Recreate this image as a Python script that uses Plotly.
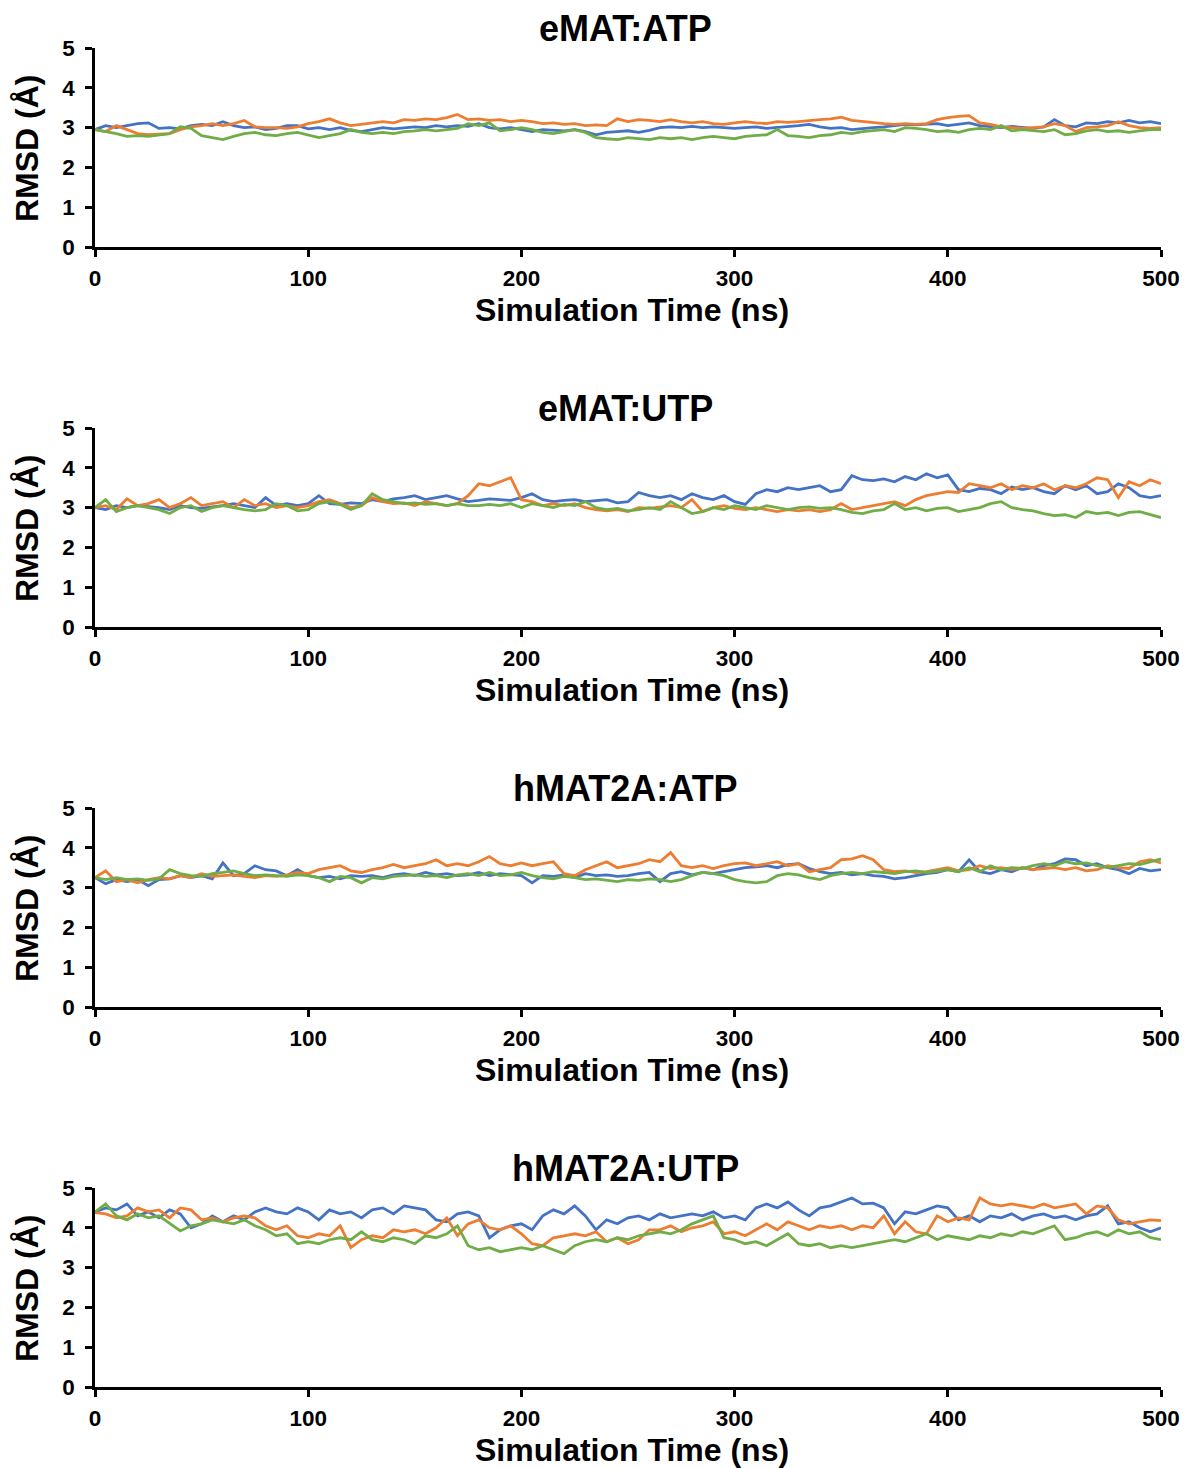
import plotly.graph_objects as go

# ---------------- data ----------------
TIME_NS = list(range(0, 501, 5))
PANEL_TITLES = ["eMAT:ATP", "eMAT:UTP", "hMAT2A:ATP", "hMAT2A:UTP"]
X_TICKS = [0, 100, 200, 300, 400, 500]
Y_TICKS = [0, 1, 2, 3, 4, 5]
X_LABEL = "Simulation Time (ns)"
Y_LABEL = "RMSD (Å)"

ematatp_blue = [2.95, 3.05, 3.0, 3.05, 3.1, 3.12, 2.98, 3.0, 2.97, 3.05,
                3.08, 3.05, 3.15, 3.05, 3.0, 3.02, 2.95, 2.98, 3.05, 3.05,
                2.97, 3.0, 2.95, 3.0, 2.93, 2.9, 2.95, 3.0, 2.97, 3.0,
                3.02, 3.0, 3.05, 3.02, 3.05, 3.03, 3.1, 3.0, 2.97, 3.0,
                2.95, 2.9, 2.95, 2.93, 2.92, 2.95, 2.9, 2.82, 2.88, 2.9,
                2.92, 2.88, 2.93, 3.0, 3.02, 3.0, 3.03, 3.0, 3.02, 3.0,
                2.98, 3.0, 3.02, 2.98, 3.0, 3.03, 3.05, 3.08, 3.02, 2.98,
                3.0, 2.95, 2.98, 3.0, 3.02, 3.05, 3.08, 3.07, 3.08, 3.1,
                3.05, 3.08, 3.12, 3.05, 3.03, 3.0, 3.03, 3.0, 2.98, 3.02,
                3.2, 3.05, 3.02, 3.12, 3.1, 3.15, 3.12, 3.18, 3.12, 3.15,
                3.1]
ematatp_orange = [2.95, 2.9, 3.05, 2.95, 2.85, 2.82, 2.83, 2.85, 2.95, 3.02,
                  3.05, 3.1, 3.05, 3.1, 3.18, 3.02, 3.0, 3.0, 2.98, 3.02,
                  3.1, 3.15, 3.22, 3.12, 3.05, 3.08, 3.12, 3.15, 3.12, 3.2,
                  3.18, 3.22, 3.2, 3.25, 3.33, 3.2, 3.22, 3.18, 3.2, 3.15,
                  3.18, 3.15, 3.1, 3.12, 3.08, 3.1, 3.05, 3.07, 3.05, 3.22,
                  3.15, 3.2, 3.18, 3.15, 3.2, 3.15, 3.12, 3.15, 3.1, 3.08,
                  3.12, 3.15, 3.12, 3.1, 3.15, 3.13, 3.15, 3.18, 3.2, 3.22,
                  3.26, 3.18, 3.15, 3.12, 3.1, 3.08, 3.1, 3.08, 3.1, 3.2,
                  3.25, 3.28, 3.3, 3.12, 3.08, 3.02, 3.0, 2.98, 3.0, 3.02,
                  3.1, 3.05, 2.9, 3.0, 3.02, 3.05, 3.15, 3.05, 3.0, 2.98,
                  3.0]
ematatp_green = [2.95, 2.9, 2.85, 2.78, 2.8, 2.78, 2.82, 2.85, 3.02, 2.98,
                 2.8, 2.75, 2.7, 2.78, 2.85, 2.88, 2.82, 2.8, 2.85, 2.88,
                 2.82, 2.75, 2.8, 2.85, 2.95, 2.88, 2.85, 2.88, 2.85, 2.9,
                 2.92, 2.95, 2.92, 2.95, 2.98, 3.1, 3.05, 3.12, 2.92, 2.95,
                 3.0, 2.95, 2.88, 2.85, 2.9, 2.95, 2.88, 2.75, 2.72, 2.7,
                 2.75, 2.72, 2.7, 2.75, 2.72, 2.75, 2.7, 2.75, 2.78, 2.75,
                 2.72, 2.78, 2.8, 2.82, 2.95, 2.8, 2.78, 2.75, 2.8, 2.82,
                 2.88, 2.85, 2.9, 2.93, 2.95, 2.9, 3.0, 2.98, 2.95, 2.9,
                 2.92, 2.88, 2.95, 2.98, 2.95, 3.05, 2.92, 2.95, 2.93, 2.9,
                 2.95, 2.82, 2.85, 2.92, 2.95, 2.9, 2.92, 2.88, 2.92, 2.95,
                 2.95]

ematutp_blue = [3.0, 2.95, 3.05, 3.0, 3.05, 3.02, 3.0, 2.95, 3.05, 3.0,
                2.98, 3.02, 3.05, 3.1, 3.05, 3.0, 3.25, 3.05, 3.1, 3.05,
                3.1, 3.3, 3.1, 3.08, 3.12, 3.1, 3.2, 3.15, 3.22, 3.25,
                3.3, 3.2, 3.25, 3.3, 3.22, 3.15, 3.18, 3.22, 3.2, 3.18,
                3.25, 3.35, 3.2, 3.15, 3.18, 3.2, 3.15, 3.18, 3.2, 3.12,
                3.15, 3.38, 3.3, 3.25, 3.3, 3.2, 3.35, 3.25, 3.2, 3.3,
                3.15, 3.08, 3.35, 3.45, 3.4, 3.5, 3.45, 3.5, 3.55, 3.4,
                3.45, 3.8, 3.7, 3.68, 3.72, 3.65, 3.78, 3.7, 3.85, 3.75,
                3.82, 3.45, 3.4, 3.48, 3.45, 3.35, 3.52, 3.45, 3.5, 3.4,
                3.35, 3.55, 3.45, 3.55, 3.35, 3.4, 3.6, 3.5, 3.3, 3.25,
                3.3]
ematutp_orange = [3.0, 3.05, 2.95, 3.22, 3.05, 3.1, 3.2, 3.0, 3.1, 3.25,
                  3.05, 3.1, 3.15, 3.0, 3.2, 3.05, 3.1, 3.0, 3.05, 3.0,
                  3.05, 3.15, 3.2, 3.1, 3.0, 3.05, 3.25, 3.15, 3.1, 3.12,
                  3.05, 3.15, 3.1, 3.05, 3.1, 3.3, 3.6, 3.55, 3.65, 3.75,
                  3.2, 3.15, 3.05, 3.1, 3.05, 3.1, 3.0, 2.95, 2.92, 2.95,
                  2.9, 3.0, 2.98, 3.02, 3.05, 3.0, 3.2, 2.9, 3.0, 3.05,
                  2.98, 2.95, 3.0, 2.95, 2.9, 2.95, 2.92, 2.95, 2.9, 2.95,
                  3.1, 2.95, 3.0, 3.05, 3.1, 3.15, 3.05, 3.2, 3.3, 3.35,
                  3.4, 3.38, 3.6, 3.55, 3.5, 3.6, 3.45, 3.55, 3.5, 3.6,
                  3.45, 3.55, 3.5, 3.6, 3.75, 3.7, 3.25, 3.65, 3.55, 3.7,
                  3.6]
ematutp_green = [3.0, 3.2, 2.9, 3.0, 3.05, 3.0, 2.95, 2.85, 3.0, 3.05,
                 2.9, 3.0, 3.05, 3.0, 2.95, 2.92, 2.95, 3.1, 3.05, 2.92,
                 2.95, 3.1, 3.15, 3.08, 2.95, 3.05, 3.35, 3.2, 3.15, 3.1,
                 3.12, 3.08, 3.1, 3.05, 3.1, 3.05, 3.05, 3.08, 3.05, 3.1,
                 3.0, 3.1, 3.05, 3.0, 3.08, 3.05, 3.15, 3.0, 2.95, 2.98,
                 2.92, 2.95, 3.0, 2.95, 3.15, 3.0, 2.85, 2.9, 3.0, 2.95,
                 3.05, 3.0, 2.95, 3.05, 3.0, 2.95, 3.0, 3.02, 2.98, 3.0,
                 2.95, 2.88, 2.85, 2.92, 2.95, 3.1, 2.95, 3.0, 2.92, 2.98,
                 3.0, 2.9, 2.95, 3.0, 3.1, 3.15, 3.0, 2.95, 2.92, 2.85,
                 2.8, 2.82, 2.75, 2.9, 2.85, 2.88, 2.8, 2.88, 2.9, 2.82,
                 2.75]

hatp_blue = [3.25, 3.1, 3.2, 3.15, 3.2, 3.05, 3.2, 3.22, 3.3, 3.25,
             3.3, 3.22, 3.62, 3.3, 3.35, 3.55, 3.45, 3.42, 3.3, 3.45,
             3.3, 3.25, 3.28, 3.22, 3.3, 3.28, 3.3, 3.25, 3.32, 3.35,
             3.3, 3.38, 3.32, 3.35, 3.3, 3.32, 3.38, 3.3, 3.35, 3.32,
             3.3, 3.12, 3.3, 3.28, 3.32, 3.25, 3.35, 3.3, 3.32, 3.28,
             3.3, 3.35, 3.38, 3.15, 3.35, 3.4, 3.32, 3.38, 3.35, 3.4,
             3.45, 3.5, 3.52, 3.55, 3.5, 3.58, 3.6, 3.48, 3.4, 3.35,
             3.38, 3.32, 3.35, 3.3, 3.28, 3.22, 3.25, 3.3, 3.35, 3.38,
             3.45, 3.4, 3.7, 3.4, 3.35, 3.45, 3.4, 3.5, 3.45, 3.55,
             3.6, 3.72, 3.7, 3.55, 3.6, 3.5, 3.45, 3.35, 3.48, 3.42,
             3.45]
hatp_orange = [3.25, 3.42, 3.15, 3.2, 3.12, 3.2, 3.25, 3.22, 3.3, 3.25,
               3.35, 3.28, 3.3, 3.32, 3.28, 3.25, 3.3, 3.28, 3.32, 3.38,
               3.35, 3.45, 3.5, 3.55, 3.42, 3.38, 3.45, 3.5, 3.58, 3.5,
               3.55, 3.6, 3.7, 3.55, 3.6, 3.55, 3.65, 3.78, 3.6, 3.55,
               3.62, 3.55, 3.6, 3.65, 3.35, 3.3, 3.45, 3.55, 3.65, 3.5,
               3.55, 3.6, 3.7, 3.65, 3.88, 3.55, 3.5, 3.55, 3.48, 3.55,
               3.6, 3.62, 3.55, 3.6, 3.65, 3.55, 3.6, 3.4, 3.45, 3.5,
               3.7, 3.72, 3.8, 3.7, 3.45, 3.4, 3.42, 3.38, 3.4, 3.45,
               3.5, 3.42, 3.45, 3.55, 3.48, 3.5, 3.45, 3.5, 3.45, 3.48,
               3.5, 3.45, 3.5, 3.42, 3.45, 3.55, 3.5, 3.48, 3.65, 3.7,
               3.62]
hatp_green = [3.25, 3.2, 3.25, 3.2, 3.22, 3.18, 3.22, 3.45, 3.35, 3.3,
              3.28, 3.35, 3.38, 3.42, 3.35, 3.3, 3.32, 3.3, 3.28, 3.32,
              3.3, 3.25, 3.15, 3.28, 3.25, 3.12, 3.25, 3.22, 3.28, 3.3,
              3.32, 3.28, 3.3, 3.25, 3.32, 3.35, 3.3, 3.38, 3.3, 3.32,
              3.38, 3.3, 3.25, 3.22, 3.28, 3.25, 3.2, 3.22, 3.18, 3.15,
              3.2, 3.18, 3.22, 3.2, 3.15, 3.2, 3.3, 3.38, 3.35, 3.3,
              3.2, 3.15, 3.12, 3.15, 3.3, 3.35, 3.32, 3.25, 3.2, 3.3,
              3.35, 3.38, 3.35, 3.4, 3.38, 3.35, 3.4, 3.42, 3.38, 3.42,
              3.45, 3.4, 3.5, 3.4, 3.55, 3.45, 3.5, 3.48, 3.55, 3.6,
              3.55, 3.65, 3.6, 3.62, 3.55, 3.5, 3.55, 3.6, 3.58, 3.65,
              3.72]

hutp_blue = [4.4, 4.5, 4.45, 4.6, 4.3, 4.4, 4.25, 4.45, 4.35, 4.0,
             4.1, 4.3, 4.15, 4.3, 4.2, 4.4, 4.5, 4.4, 4.35, 4.5,
             4.4, 4.2, 4.45, 4.35, 4.4, 4.25, 4.45, 4.5, 4.35, 4.55,
             4.5, 4.45, 4.2, 4.15, 4.35, 4.4, 4.3, 3.75, 3.95, 4.05,
             4.1, 3.95, 4.3, 4.45, 4.35, 4.55, 4.3, 3.95, 4.2, 4.1,
             4.25, 4.3, 4.2, 4.35, 4.25, 4.3, 4.35, 4.3, 4.4, 4.25,
             4.3, 4.2, 4.5, 4.6, 4.5, 4.65, 4.45, 4.3, 4.5, 4.55,
             4.65, 4.75, 4.6, 4.62, 4.5, 4.1, 4.4, 4.35, 4.45, 4.55,
             4.5, 4.2, 4.3, 4.15, 4.3, 4.25, 4.35, 4.2, 4.3, 4.35,
             4.25, 4.3, 4.2, 4.3, 4.35, 4.55, 4.1, 4.15, 4.0, 3.9,
             4.0]
hutp_orange = [4.38, 4.35, 4.25, 4.3, 4.5, 4.4, 4.45, 4.25, 4.5, 4.45,
               4.2, 4.25, 4.15, 4.25, 4.3, 4.25, 4.05, 3.95, 4.05, 3.8,
               3.75, 3.85, 3.8, 4.05, 3.5, 3.7, 3.8, 3.75, 3.95, 3.9,
               3.95, 3.85, 4.0, 4.25, 3.8, 4.1, 4.2, 4.0, 3.95, 4.05,
               3.85, 3.6, 3.55, 3.75, 3.8, 3.85, 3.8, 3.9, 3.65, 3.75,
               3.6, 3.7, 3.95, 3.95, 4.05, 3.9, 4.0, 4.05, 4.15, 3.85,
               3.9, 3.8, 3.95, 4.1, 3.95, 4.15, 4.05, 3.95, 4.05, 4.0,
               4.05, 3.95, 4.05, 4.0, 4.3, 3.85, 4.15, 3.9, 3.85, 4.3,
               4.15, 4.25, 4.2, 4.75, 4.6, 4.55, 4.6, 4.55, 4.5, 4.6,
               4.5, 4.55, 4.6, 4.35, 4.55, 4.5, 4.2, 4.1, 4.15, 4.2,
               4.18]
hutp_green = [4.4, 4.6, 4.3, 4.2, 4.35, 4.25, 4.3, 4.1, 3.92, 4.05,
              4.1, 4.2, 4.15, 4.1, 4.2, 4.05, 3.95, 3.8, 3.85, 3.6,
              3.65, 3.6, 3.7, 3.75, 3.7, 3.9, 3.7, 3.65, 3.75, 3.7,
              3.6, 3.8, 3.75, 3.85, 4.05, 3.55, 3.45, 3.5, 3.4, 3.45,
              3.5, 3.45, 3.55, 3.45, 3.35, 3.55, 3.65, 3.7, 3.65, 3.75,
              3.7, 3.8, 3.85, 3.9, 3.85, 3.95, 4.1, 4.2, 4.3, 3.75,
              3.7, 3.6, 3.65, 3.55, 3.7, 3.85, 3.6, 3.55, 3.6, 3.5,
              3.55, 3.5, 3.55, 3.6, 3.65, 3.7, 3.65, 3.75, 3.85, 3.7,
              3.8, 3.75, 3.7, 3.8, 3.75, 3.85, 3.8, 3.9, 3.85, 3.95,
              4.05, 3.7, 3.75, 3.85, 3.9, 3.8, 3.95, 3.85, 3.9, 3.75,
              3.7]

PANELS = [
    (ematatp_blue, ematatp_orange, ematatp_green),
    (ematutp_blue, ematutp_orange, ematutp_green),
    (hatp_blue, hatp_orange, hatp_green),
    (hutp_blue, hutp_orange, hutp_green),
]
COLORS = ["#4472C4", "#ED7D31", "#70AD47"]

# ---------------- layout geometry (pixels) ----------------
W, H = 1185, 1468
ML, MR, MT, MB = 95, 24, 48, 81
PW = W - ML - MR
PH = H - MT - MB
PANEL_TOP = [48, 428, 808, 1188]
PANEL_H = 199


def py(pix):
    """pixel y -> paper y"""
    return 1 - (pix - MT) / PH


def px(pix):
    return (pix - ML) / PW


FONT = "Arial, Liberation Sans, sans-serif"

fig = go.Figure()
annotations = []
layout = dict(
    width=W, height=H,
    margin=dict(l=ML, r=MR, t=MT, b=MB, autoexpand=False),
    paper_bgcolor="white", plot_bgcolor="white",
    showlegend=False,
    font=dict(family=FONT, color="black"),
)

for i, (series, title) in enumerate(zip(PANELS, PANEL_TITLES)):
    n = i + 1
    xa = "x" if n == 1 else f"x{n}"
    ya = "y" if n == 1 else f"y{n}"
    for vals, col in zip(series, COLORS):
        fig.add_trace(go.Scatter(
            x=TIME_NS[:len(vals)], y=vals, mode="lines",
            line=dict(color=col, width=2.8), xaxis=xa, yaxis=ya,
            hoverinfo="skip"))
    top = PANEL_TOP[i]
    bot = top + PANEL_H
    key_x = "xaxis" if n == 1 else f"xaxis{n}"
    key_y = "yaxis" if n == 1 else f"yaxis{n}"
    layout[key_x] = dict(
        domain=[0, 1], anchor=ya, range=[0, 500], tickvals=X_TICKS,
        showgrid=False, zeroline=False, showline=True, linecolor="black",
        linewidth=3, ticks="outside", ticklen=7, tickwidth=2.5,
        tickcolor="black", ticklabelstandoff=2, automargin=False,
        tickfont=dict(family=FONT, size=22.5, color="black", weight="bold"))
    layout[key_y] = dict(
        domain=[py(bot), py(top)], anchor=xa, range=[0, 5], tickvals=Y_TICKS,
        showgrid=False, zeroline=False, showline=True, linecolor="black",
        linewidth=2.5, ticks="outside", ticklen=7, tickwidth=2.5,
        tickcolor="black", ticklabelstandoff=6, automargin=False,
        tickfont=dict(family=FONT, size=22.5, color="black", weight="bold"))
    # panel title
    annotations.append(dict(
        text=title, xref="paper", yref="paper", x=px(625), y=py(top - 20),
        xanchor="center", yanchor="middle", showarrow=False,
        font=dict(family=FONT, size=36, color="black", weight="bold")))
    # x-axis title
    annotations.append(dict(
        text=X_LABEL, xref="paper", yref="paper", x=px(632), y=py(bot + 63),
        xanchor="center", yanchor="middle", showarrow=False,
        font=dict(family=FONT, size=32, color="black", weight="bold")))
    # y-axis title
    annotations.append(dict(
        text=Y_LABEL, xref="paper", yref="paper", x=px(27), y=py(top + 100),
        xanchor="center", yanchor="middle", showarrow=False, textangle=-90,
        font=dict(family=FONT, size=32, color="black", weight="bold")))

layout["annotations"] = annotations
fig.update_layout(**layout)
fig.write_html(
    "out.html",
    config={"displayModeBar": False},
    post_script="document.body.style.margin='0';"
                "document.body.style.padding='0';"
                "document.body.style.overflow='hidden';")
